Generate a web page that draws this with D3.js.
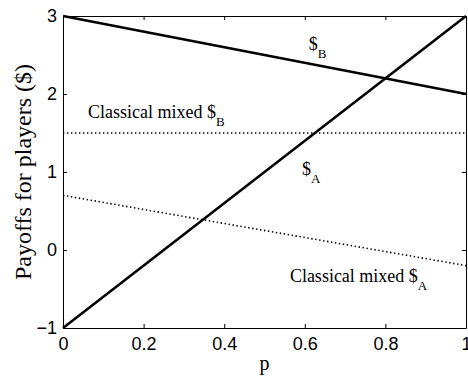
<!DOCTYPE html>
<html><head><meta charset="utf-8">
<script src="https://cdn.jsdelivr.net/npm/d3@7"></script>
<style>body{margin:0;background:#fff}</style>
</head><body>
<script>
const pDomain = [0, 1];
const yDomain = [-1, 3];
const xTicks = [0, 0.2, 0.4, 0.6, 0.8, 1];
const yTicks = [-1, 0, 1, 2, 3];
const pPoints = [0, 1];
const payoffA = [-1, 3];
const payoffB = [3, 2];
const classicalB = [1.5, 1.5];
const classicalA = [0.7, -0.2];
const labelText = ["Classical mixed $", "$", "$", "Classical mixed $"];
const labelSub = ["B", "B", "A", "A"];
const labelP = [0.062, 0.61, 0.593, 0.563];
const labelV = [1.692, 2.564, 0.962, -0.41];

const W = 468, H = 376;
const m = {left: 63, right: 2, top: 16, bottom: 48};
const svg = d3.select("body").append("svg").attr("width", W).attr("height", H);
const x = d3.scaleLinear().domain(pDomain).range([m.left, W - m.right]);
const y = d3.scaleLinear().domain(yDomain).range([H - m.bottom, m.top]);

const fmt = d => d === 0 || d === 1 ? String(d) : d3.format(".1f")(d);
const sans = "'Liberation Sans', Arial, sans-serif";
const serif = "'Liberation Serif', 'Times New Roman', serif";

function styleAxis(g) {
  g.select(".domain").attr("stroke", "#000").attr("stroke-width", 1);
  g.selectAll(".tick line").attr("stroke", "#000");
  g.selectAll("text").attr("font-family", sans).attr("font-size", 18).attr("fill", "#000");
}
svg.append("g").attr("transform", `translate(0,${y(-1)})`)
  .call(d3.axisBottom(x).tickValues(xTicks).tickFormat(fmt).tickSizeInner(-4).tickSizeOuter(0).tickPadding(9))
  .call(styleAxis);
svg.append("g").attr("transform", `translate(0,${y(3)})`)
  .call(d3.axisTop(x).tickValues(xTicks).tickFormat("").tickSizeInner(-4).tickSizeOuter(0))
  .call(styleAxis);
svg.append("g").attr("transform", `translate(${x(0)},0)`)
  .call(d3.axisLeft(y).tickValues(yTicks).tickFormat(d => d < 0 ? "\u2212" + Math.abs(d) : d).tickSizeInner(-4).tickSizeOuter(0).tickPadding(6))
  .call(styleAxis);
svg.append("g").attr("transform", `translate(${x(1)},0)`)
  .call(d3.axisRight(y).tickValues(yTicks).tickFormat("").tickSizeInner(-4).tickSizeOuter(0))
  .call(styleAxis);

const line = d3.line().x(d => x(d[0])).y(d => y(d[1]));
const series = [
  {v: payoffA, w: 2.6, dash: null},
  {v: payoffB, w: 2.6, dash: null},
  {v: classicalB, w: 1.6, dash: "1.4,2.6"},
  {v: classicalA, w: 1.6, dash: "1.4,2.6"}
];
series.forEach(s => {
  svg.append("path").datum(pPoints.map((p, i) => [p, s.v[i]]))
    .attr("d", line).attr("fill", "none").attr("stroke", "#000")
    .attr("stroke-width", s.w).attr("stroke-dasharray", s.dash);
});

labelText.forEach((t, i) => {
  const tx = svg.append("text").attr("x", x(labelP[i])).attr("y", y(labelV[i]))
    .attr("font-family", serif).attr("font-size", 18).attr("fill", "#000");
  tx.append("tspan").text(t);
  tx.append("tspan").attr("dy", 8).attr("font-size", 13).text(labelSub[i]);
});

svg.append("text").attr("x", x(0.5)).attr("y", 370).attr("text-anchor", "middle")
  .attr("font-family", serif).attr("font-size", 20).text("p");
svg.append("text").attr("transform", `translate(31,${y(1)}) rotate(-90)`).attr("text-anchor", "middle")
  .attr("font-family", serif).attr("font-size", 24).text("Payoffs for players ($)");
</script>
</body></html>
